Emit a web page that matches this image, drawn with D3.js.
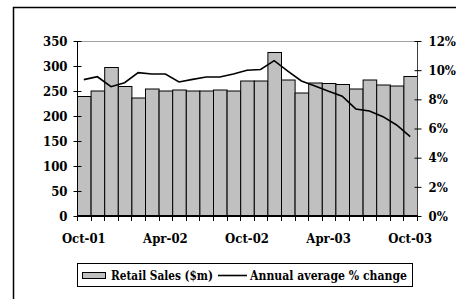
<!DOCTYPE html>
<html><head><meta charset="utf-8">
<script src="https://cdn.jsdelivr.net/npm/d3@7"></script>
<style>body{margin:0;background:#fff}svg{display:block}</style>
</head><body><svg id="c" width="456" height="299"></svg>
<script>
const months = ["Oct-01","Nov-01","Dec-01","Jan-02","Feb-02","Mar-02","Apr-02","May-02","Jun-02","Jul-02","Aug-02","Sep-02","Oct-02","Nov-02","Dec-02","Jan-03","Feb-03","Mar-03","Apr-03","May-03","Jun-03","Jul-03","Aug-03","Sep-03","Oct-03"];
const retailSales = [240,251,298,260,237,255,251,253,251,251,253,251,271,271,328,273,247,267,266,264,255,273,263,261,280];
const annualChange = [9.35,9.55,8.87,9.14,9.83,9.74,9.74,9.19,9.37,9.53,9.53,9.74,9.99,10.05,10.65,9.94,9.26,8.92,8.55,8.21,7.34,7.2,6.81,6.24,5.44];
const xLabels = ["Oct-01","Apr-02","Oct-02","Apr-03","Oct-03"];
const leftTicks = [0,50,100,150,200,250,300,350];
const rightTicks = [0,2,4,6,8,10,12];
const legendLabels = ["Retail Sales ($m)","Annual average % change"];

const FONT = "'DejaVu Serif Condensed', 'DejaVu Serif', serif";
const svg = d3.select("#c");
const L=77,R=417,T=41,B=216;
svg.append("path").attr("d","M13.5,300 V7.5 H457").attr("fill","none").attr("stroke","#000").attr("stroke-width",1.5);

const x = d3.scaleBand().domain(months).range([L,R]).padding(0);
const yL = d3.scaleLinear().domain([0,350]).range([B,T]);
const yR = d3.scaleLinear().domain([0,12]).range([B,T]);

svg.append("line").attr("x1",L).attr("x2",R).attr("y1",T+0.5).attr("y2",T+0.5).attr("stroke","#a0a0a0");

svg.append("g").selectAll("rect").data(retailSales).join("rect")
  .attr("x",(d,i)=>x(months[i])+0.5).attr("y",d=>yL(d)+0.5)
  .attr("width",x.bandwidth()).attr("height",d=>B-yL(d))
  .attr("fill","#c0c0c0").attr("stroke","#000").attr("stroke-width",1);

const line = d3.line().x((d,i)=>x(months[i])+x.bandwidth()/2).y(d=>yR(d));
svg.append("path").datum(annualChange).attr("d",line).attr("fill","none").attr("stroke","#000").attr("stroke-width",1.6);

const gl = svg.append("g").attr("transform",`translate(${L+0.5},0)`)
  .call(d3.axisLeft(yL).tickValues(leftTicks).tickSize(4).tickPadding(6));
gl.select(".domain").attr("stroke","#000").attr("d",`M0,${T}V${B}`);
gl.selectAll(".tick line").attr("x1",4).attr("x2",-4);

const gr = svg.append("g").attr("transform",`translate(${R+0.5},0)`)
  .call(d3.axisRight(yR).tickValues(rightTicks).tickFormat(d=>d+"%").tickSize(4).tickPadding(7));
gr.select(".domain").attr("stroke","#404040").attr("d",`M0,${T}V${B}`);
gr.selectAll(".tick line").attr("x1",-3).attr("x2",4).attr("stroke","#000");

const xb = d3.scaleLinear().domain([0,months.length]).range([L,R]);
const gb = svg.append("g").attr("transform",`translate(0,${B})`);
gb.append("line").attr("x1",L).attr("x2",R).attr("stroke","#000").attr("stroke-width",2);
gb.selectAll(".tk").data(d3.range(months.length+1)).join("line")
  .attr("x1",d=>Math.round(xb(d))+0.5).attr("x2",d=>Math.round(xb(d))+0.5).attr("y1",-1).attr("y2",5).attr("stroke","#000");
gb.selectAll(".lbl").data(xLabels).join("text")
  .attr("x",d=>x(d)+x.bandwidth()/2).attr("y",27).attr("text-anchor","middle").text(d=>d);

const lg = svg.append("g");
lg.append("rect").attr("x",77.5).attr("y",263.5).attr("width",335).attr("height",23).attr("fill","#fff").attr("stroke","#000");
lg.append("rect").attr("x",82.5).attr("y",272.5).attr("width",23).attr("height",6).attr("fill","#c0c0c0").attr("stroke","#000");
lg.append("text").attr("class","lt").attr("x",111).attr("y",280).attr("textLength",102).text(legendLabels[0]);
lg.append("line").attr("x1",218).attr("x2",247).attr("y1",275.5).attr("y2",275.5).attr("stroke","#000").attr("stroke-width",1.6);
lg.append("text").attr("class","lt").attr("x",250).attr("y",280).attr("textLength",157).text(legendLabels[1]);
lg.selectAll(".lt").attr("lengthAdjust","spacingAndGlyphs");

gl.attr("font-family",null).attr("font-size",null);
gr.attr("font-family",null).attr("font-size",null);
svg.selectAll("text").attr("font-weight","bold").attr("font-size",13).attr("fill","#000")
  .attr("font-family",FONT).attr("font-stretch","condensed");
</script></body></html>
